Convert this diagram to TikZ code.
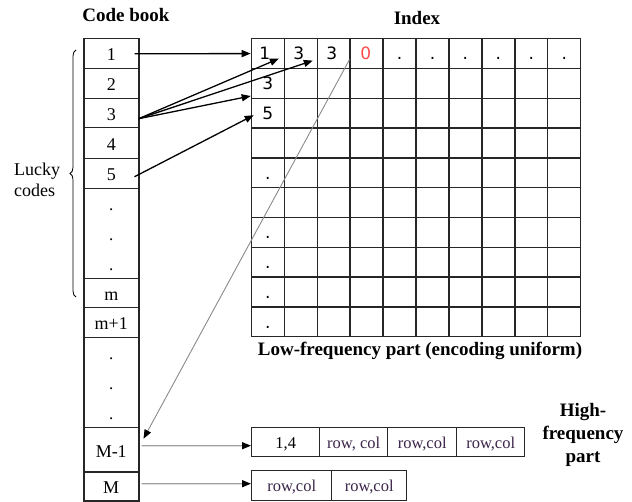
\documentclass[tikz,border=0pt]{standalone}
\usepackage{fontspec}
\setmainfont{Liberation Serif}
\newfontfamily\gridfont{DejaVu Sans}
\usetikzlibrary{arrows.meta,decorations.pathreplacing}
\definecolor{linec}{HTML}{262626}
\definecolor{zeroc}{HTML}{FF4A4A}
\definecolor{rcc}{HTML}{3A2448}
\definecolor{thinc}{HTML}{8A8A8A}
\begin{document}
\begin{tikzpicture}[x=1pt,y=-1pt,
  cbcell/.style={draw=linec, line width=1.5pt, anchor=north west, inner sep=0pt,
    minimum width=55pt, font=\fontsize{18}{21}\selectfont, text height=14.5pt, text depth=0pt},
  cbtall/.style={draw=linec, line width=1.5pt, anchor=north west, inner sep=0pt,
    minimum width=55pt},
  dotcol/.style={inner sep=0pt, align=center, font=\fontsize{17}{30}\selectfont},
  gcell/.style={draw=linec, line width=1.4pt, anchor=north west, inner sep=0pt,
    minimum width=32.93pt, minimum height=29.8pt},
  gtext/.style={inner sep=0pt, font=\gridfont\fontsize{17}{20}\selectfont, text height=12.5pt, text depth=0pt},
  hfcell/.style={draw=linec, line width=1.4pt, anchor=north west, inner sep=0pt,
    font=\fontsize{16.5}{19}\selectfont, text height=12.5pt, text depth=0pt},
  title/.style={inner sep=0pt, font=\bfseries\fontsize{19}{23}\selectfont},
  arr/.style={draw=black, line width=1.3pt, -{Triangle[length=9pt,width=7pt]}},
  thinarr/.style={draw=thinc, line width=0.9pt, -{Triangle[length=9pt,width=7pt,fill=black,color=black]}},
  grayarr/.style={draw=thinc!80, line width=1.3pt, -{Triangle[length=9pt,width=7pt,fill=black,color=black]}}
]
\useasboundingbox (0,0) rectangle (632,502);

% titles
\node[title] (tcb) at (126,15) {Code book};
\node[title] (tidx) at (417,18) {Index};
\node[title] (tlow) at (420,351) {Low-frequency part (encoding uniform)};
\node[title, align=center] (thigh) at (583,435) {High-\\frequency\\part};
\node[inner sep=0pt, anchor=north west, align=left, font=\fontsize{18}{21}\selectfont] (tlucky) at (14,163) {Lucky\\codes};

% code book
\node[cbcell, minimum height=30pt] (cb1) at (83,38) {1};
\node[cbcell, minimum height=30pt] (cb2) at (83,68) {2};
\node[cbcell, minimum height=29pt] (cb3) at (83,98) {3};
\node[cbcell, minimum height=31pt] (cb4) at (83,127) {4};
\node[cbcell, minimum height=30pt] (cb5) at (83,158) {5};
\node[cbtall, minimum height=90pt] (cb6) at (83,188) {};
\node[dotcol] (cb6d) at ([yshift=-6pt]cb6.center) {.\\.\\.};
\node[cbcell, minimum height=29pt] (cbm) at (83,278) {m};
\node[cbcell, minimum height=30pt] (cbm1) at (83,307) {m+1};
\node[cbtall, minimum height=90pt] (cb7) at (83,337) {};
\node[dotcol] (cb7d) at ([yshift=-6pt]cb7.center) {.\\.\\.};
\node[cbcell, minimum height=44pt] (cbM1) at (83,427) {M-1};
\node[cbcell, minimum height=29pt] (cbM) at (83,471) {M};

% brace
\draw[line width=0.8pt, decorate, decoration={brace, amplitude=6pt}] (76,297) -- (76,50);

% index grid
\foreach \r in {0,...,9}{
  \foreach \c in {0,...,9}{
    \node[gcell] (g-\r-\c) at ({250.7+\c*32.93},{38+\r*29.8}) {};
  }
}
\node[gtext] (t00) at ([xshift=-3pt]g-0-0.center) {1};
\node[gtext] (t01) at ([xshift=-2pt]g-0-1.center) {3};
\node[gtext] (t02) at ([xshift=-2pt]g-0-2.center) {3};
\node[gtext, text=zeroc] (t03) at ([xshift=-1pt]g-0-3.center) {0};
\foreach \c in {4,...,9}{
  \node[gtext] (t0\c) at (g-0-\c.center) {.};
}
\node[gtext] (t10) at (g-1-0.center) {3};
\node[gtext] (t20) at (g-2-0.center) {5};
\foreach \r in {4,6,7,8,9}{
  \node[gtext] (t\r0) at (g-\r-0.center) {.};
}

% high-frequency part
\node[hfcell, minimum width=68pt, minimum height=29pt] (h1a) at (251,427) {1,4};
\node[hfcell, minimum width=68pt, minimum height=29pt, text=rcc] (h1b) at (319,427) {row, col};
\node[hfcell, minimum width=69pt, minimum height=29pt, text=rcc] (h1c) at (387,427) {row,col};
\node[hfcell, minimum width=68pt, minimum height=29pt, text=rcc] (h1d) at (456,427) {row,col};
\node[hfcell, minimum width=80pt, minimum height=30pt, text=rcc] (h2a) at (251,470) {row,col};
\node[hfcell, minimum width=75pt, minimum height=30pt, text=rcc] (h2b) at (331,470) {row,col};

% arrows
\draw[arr] ([xshift=-5pt]cb1.east) -- (g-0-0.west);
\draw[arr] ([xshift=-1pt,yshift=-5.5pt]cb3.east) -- ([xshift=11pt,yshift=-5pt]g-0-0.center);
\draw[arr] ([xshift=-1pt,yshift=-5.5pt]cb3.east) -- ([xshift=12pt,yshift=-7pt]g-0-1.center);
\draw[arr] ([xshift=-1pt,yshift=-5.5pt]cb3.east) -- ([yshift=3pt]g-1-0.south west);
\draw[arr] ([xshift=-5pt,yshift=-3pt]cb5.east) -- ([xshift=3pt,yshift=-2pt]g-2-0.west);
\draw[thinarr] ([yshift=-6pt]g-0-3.west) -- ([xshift=4pt,yshift=11pt]cbM1.east);
\draw[grayarr] ([xshift=2pt,yshift=4pt]cbM1.east) -- ([yshift=-3.5pt]h1a.west);
\draw[grayarr] ([xshift=2pt,yshift=2.5pt]cbM.east) -- ([yshift=2pt]h2a.west);
\end{tikzpicture}
\end{document}
